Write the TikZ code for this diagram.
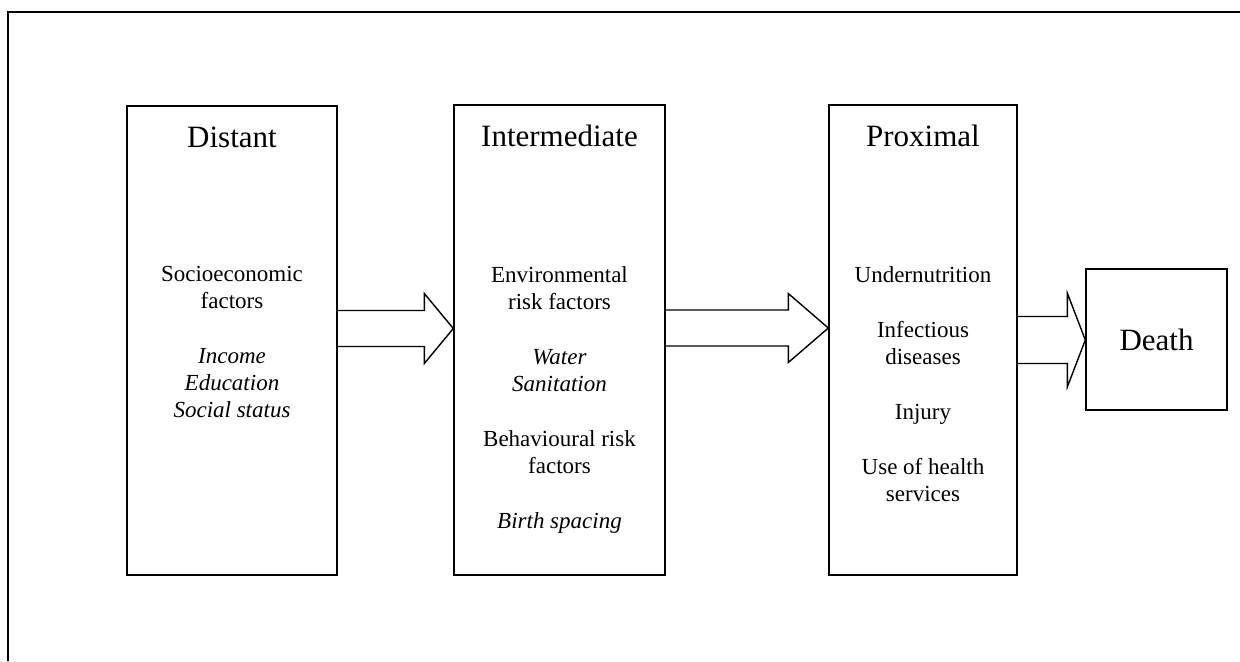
\documentclass[tikz,border=0pt]{standalone}
\usepackage{fontspec}
\setmainfont{Liberation Serif}
\usetikzlibrary{calc}

% block arrow from one box to the next:
% #1 from, #2 to, #3 centre y, #4 half shaft, #5 half head, #6 head length
\newcommand{\fatarrow}[6]{%
  \draw[outline]
    ($(#1.east |- 0,#3)+(0,-#4)$) -- ($(#2.west |- 0,#3)+(-#6,-#4)$)
    -- ($(#2.west |- 0,#3)+(-#6,-#5)$) -- (#2.west |- 0,#3)
    -- ($(#2.west |- 0,#3)+(-#6,#5)$) -- ($(#2.west |- 0,#3)+(-#6,#4)$)
    -- ($(#1.east |- 0,#3)+(0,#4)$);
}

\begin{document}
\begin{tikzpicture}[x=0.5pt, y=-0.5pt,
    outline/.style={line width=0.7pt, line join=miter},
    stage/.style={draw, outline, rectangle, inner sep=0pt},
    heading/.style={font=\fontsize{15.5}{18}\selectfont, anchor=base, inner sep=0pt},
    factors/.style={font=\fontsize{11.5}{13.5}\selectfont, align=center, anchor=north, inner sep=0pt},
    ]
  \useasboundingbox (0,0) rectangle (1240,661);

  % frame
  \draw[line width=0.8pt] (1240,12) -- (8,12) -- (8,661);

  % boxes
  \node[stage, minimum width=105pt, minimum height=234.5pt] (distant) at (232,340.5) {};
  \node[stage, minimum width=105.5pt, minimum height=235pt] (intermediate) at (559.5,340) {};
  \node[stage, minimum width=94pt, minimum height=235pt] (proximal) at (923,340) {};
  \node[stage, minimum width=70.5pt, minimum height=70.5pt,
        font=\fontsize{15.5}{18}\selectfont] (death) at (1156.5,339.5) {Death};

  % titles
  \node[heading] (distantT) at (distant.north |- 0,147) {Distant};
  \node[heading] (intermediateT) at (intermediate.north |- 0,146) {Intermediate};
  \node[heading] (proximalT) at (proximal.north |- 0,146) {Proximal};

  % contents
  \node[factors] (distantF) at (distant.north |- 0,266)
    {Socioeconomic\\factors\\[14pt]
     \textit{Income}\\\textit{Education}\\\textit{Social status}};
  \node[factors] (intermediateF) at (intermediate.north |- 0,266)
    {Environmental\\risk factors\\[14pt]
     \textit{Water}\\\textit{Sanitation}\\[14pt]
     Behavioural risk\\factors\\[14pt]
     \textit{Birth spacing}};
  \node[factors] (proximalF) at (proximal.north |- 0,266)
    {Undernutrition\\[14pt]
     Infectious\\diseases\\[14pt]
     Injury\\[14pt]
     Use of health\\services};

  % arrows
  \fatarrow{distant}{intermediate}{328.5}{18}{35}{29}
  \fatarrow{intermediate}{proximal}{328}{18}{34.5}{40}
  \fatarrow{proximal}{death}{340}{23.5}{47}{18}
\end{tikzpicture}
\end{document}
